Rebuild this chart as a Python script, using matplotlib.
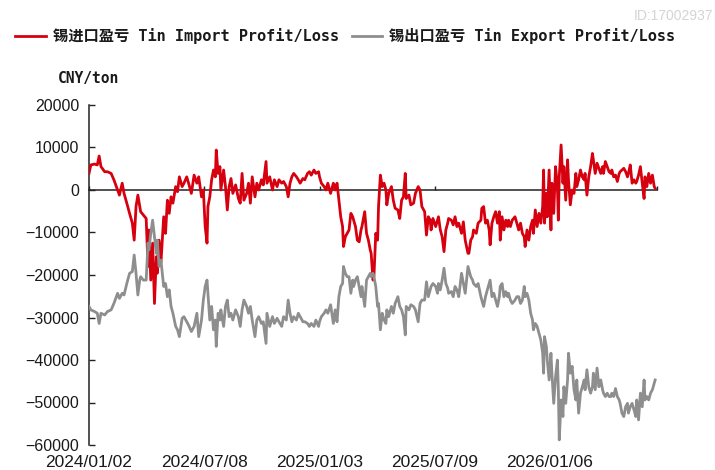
import numpy as np
import matplotlib
matplotlib.use('Agg')
import matplotlib.pyplot as plt
from matplotlib.font_manager import FontProperties
from matplotlib.lines import Line2D

plt.rcParams['font.family'] = ['Liberation Sans', 'Noto Sans CJK SC']
plt.rcParams['axes.unicode_minus'] = True

## trading-day index of each sample (day 0 = 2024/01/02)
day = [0, 2, 6, 9, 11, 13, 17, 20, 24, 27, 31, 33, 36, 38, 41, 44, 47, 49, 51, 53, 55, 56, 59, 62, 64,
       65, 67, 69, 71, 73, 74, 76, 78, 81, 83, 85, 87, 89, 91, 94, 96, 98, 101,
       103, 106, 108, 111, 114, 117, 119, 122, 124, 126, 128, 129, 131, 133, 135, 137, 138, 140, 142,
       143, 146, 148, 150, 152, 154, 156, 159, 162, 164, 166, 168, 171, 173, 175, 177, 180, 182, 184,
       187, 189, 192, 193, 196, 199, 201, 204,
       206, 209, 211, 214, 216, 218, 220, 222, 225, 227, 229, 232, 234, 237, 239, 241, 244, 246, 249,
       250, 252, 255, 257, 259, 262, 265, 267, 269, 271, 273, 275, 276, 278, 280, 282, 284, 286, 287,
       289, 291, 293, 295, 296, 299, 301, 303, 305, 306, 308,
       309, 311, 313, 314, 316, 318, 320, 322, 323, 325, 328, 330, 332, 335, 337, 339, 341, 343, 344,
       347, 349, 352, 354, 357, 359, 361, 364, 366, 368, 370, 371, 373, 376, 378, 379, 381, 383, 385,
       387, 389, 390, 393, 395, 397, 399, 401, 404, 406, 408, 411,
       412, 414, 416, 417, 420, 422, 425, 426, 428, 430, 432, 434, 435, 437, 439, 441, 443, 445, 446,
       448, 450, 452, 454, 455, 457, 459, 462, 464, 466, 468, 470, 472, 473, 475, 477, 479, 481, 482,
       484, 486, 488, 490, 492, 493, 494, 496, 497, 499, 501, 502, 504, 506, 508, 509, 510, 512, 514,
       515, 517, 519, 520, 522, 524, 526, 528, 529, 531, 533, 535, 537, 538, 540, 542, 544, 546, 547,
       549, 551, 553, 555, 557, 558, 560, 562, 564, 566, 567, 569, 571, 573, 575, 576, 578, 580, 582,
       584, 585, 587, 589, 591, 593, 594, 596, 598, 600, 602, 603, 605, 607, 609, 611, 613, 614]

## 锡进口盈亏 (CNY/ton)
import_pl = [3900, 5900, 6100, 5900, 8000, 5500, 4300, 4300, 3900, 2400, 0, -1200, 1600, -800, -3100,
             -5500, -7800, -11800, -3900, -1200, -3900, -5100, -5900, -6700, -18000, -9400, -21200,
             -12500, -26700, -15700, -19600, -11800, -17200, -6300, -10200, -2400, -5500, -1600, -3100,
             800, -400, 3100, 800,
             1600, 3100, 1600, -800, 3500, 1600, 3100, -1600, 0, -8600, -12500, -3900, -1600, 2400, 4700,
             3100, 9400, 3900, 5500, 0, 4700, 800, -4700, 800, 2700, -800, 1200, -2000, -3100, 3900,
             -2400, -800, 1600, -3100, 3100, -1600, 1600, 0, 2400, 1200, 6700, 1600, 3100, 0, 2400, 800,
             2400, 1600, 2000, 800, -1600, 1600, 3100, 3900, 3100, 2400, 1600, 2700, 2400, 3900, 4300,
             3500, 4700, 3900, 4300, 3100, 1600, 800, 0, 1600, -800, 1600, 0, 1600, -2400, -6300, -8600,
             -13300, -11000, -10200, -9400, -5500, -6300, -7100, -8600, -11800, -12200, -9400, -8600,
             -5100, -10200, -11800, -14100, -14900, -21200,
             -20400, -10200, -11800, -3900, 3500, 800, 1600, 0, -3500, -800, 800, -2400, -4300, -4700,
             -6700, -2400, -1600, 3900, -2000, -1200, -3500, -3100, -800, 800, 0, -3900, -5100, -10600,
             -6300, -7100, -9400, -6700, -8600, -7100, -6300, -9400, -11000, -14500, -9400, -7800, -6700,
             -7100, -8200, -6300, -8600, -7800, -10200, -7500, -11800, -14900,
             -14900, -11800, -11000, -9400, -10200, -7800, -7100, -4300, -3900, -7800, -7100, -9400,
             -12900, -7800, -6300, -5100, -7800, -5100, -11800, -6300, -9400, -7100, -8600, -7100, -8600,
             -7100, -6300, -7800, -9400, -7800, -10200, -11000, -13300, -9400, -11800, -8600, -7100,
             -10200, -4700, -8600, -5500, -7800, -3900, 4700, -7800, -800, -6300, 4700, -9400, 1600,
             -5500, 5500, 800, -7100, 3100, 10600, 1600,
             5500, -2400, 7100, 2400, -3500, 0, -800, 3900, 800, 2400, 4700, 3100, 2400, 3900, -1200,
             3100, 5500, 8600, 7100, 3900, 6300, 5100, 3900, 5500, 3900, 6700, 5500, 4300, 3900, 4700,
             3100, 3500, 2000, 3900, 4300, 4700, 5100, 4300, 3100, 3900, 5900, 1600, 2400, 1600, 2000,
             3500, 5500, 1600, -2000, 3100, 800, 3900, 1600, 3500, 800, 400]

## 锡出口盈亏 (CNY/ton)
export_pl = [-27400, -28200, -28600, -29000, -31400, -29000, -29400, -28600, -28200, -26700, -24300,
             -25500, -24300, -24700, -22000, -19600, -19200, -15300, -19600, -24700, -21200, -20400,
             -21200, -21200, -12500, -14100, -10200, -7100, -11000, -14900, -11800, -18000, -16500,
             -22700, -22000, -25100, -23500, -27400, -29000, -32100, -32900, -34500, -30200,
             -29800, -31000, -31800, -33300, -32100, -29000, -34500, -30600, -25900, -22700, -21200,
             -24300, -30600, -27400, -32900, -30600, -36800, -29000, -30600, -28200, -32100, -27400,
             -25900, -29800, -29000, -30600, -28200, -29800, -32100, -28200, -25900, -27400, -29000,
             -27400, -30600, -34500, -30600, -29800, -31400, -31000, -36100, -29000, -32100, -29800,
             -31400, -30200,
             -31000, -32100, -29800, -30600, -25900, -29000, -31000, -29800, -30600, -29000, -29800,
             -31000, -31000, -31400, -32100, -31400, -32100, -30600, -32100, -31000, -29800, -29000,
             -28200, -29000, -27000, -31400, -28200, -31000, -25100, -22700, -22000, -18000, -19600,
             -20400, -20400, -24300, -21200, -22700, -21200, -20400, -22700, -25100, -22700, -27400,
             -21200, -20400, -19600, -20400, -19600,
             -20400, -22700, -27400, -26700, -32900, -29000, -30600, -31400, -28200, -29800, -27400,
             -29000, -26700, -25100, -27400, -28200, -29800, -34100, -27400, -28200, -27000, -27400,
             -28200, -31000, -26700, -25900, -25900, -21600, -25100, -23500, -22700, -22000, -22700,
             -24300, -22000, -23500, -21200, -18400, -22000, -23100, -24300, -23900, -25100, -22700,
             -23500, -25100, -19600, -22000, -24300, -18000,
             -18800, -20400, -21200, -22000, -22700, -22000, -25100, -25900, -27400, -25100, -23500,
             -22000, -21200, -25100, -24300, -25900, -27400, -25100, -22700, -22000, -25100, -23900,
             -25100, -24300, -25900, -26700, -25900, -25100, -25100, -26700, -25900, -22700, -25100,
             -24300, -25900, -29000, -30600, -32900, -31400, -32100, -33700, -35300, -38400, -43100,
             -34500, -36800, -40000, -44700, -38400, -43100, -50200, -43900, -40000, -47000, -58800,
             -49400, -53300,
             -46300, -50200, -44700, -38400, -43100, -41500, -47000, -49400, -44700, -52500, -47800,
             -46300, -44700, -47000, -42300, -46300, -47800, -46300, -43100, -47000, -41900, -46300,
             -44700, -47000, -47800, -48600, -47800, -48600, -48600, -47800, -48600, -46700, -48600,
             -49400, -50200, -52500, -53300, -51000, -50200, -52500, -51000, -50200, -51700, -53300,
             -49400, -54100, -47800, -51000, -44700, -49400, -48600, -49400, -47800, -47000, -45500,
             -44700]

tick_days = [0, 125, 250, 375, 500]
tick_labels = ['2024/01/02', '2024/07/08', '2025/01/03', '2025/07/09', '2026/01/06']
y_ticks = [-60000, -50000, -40000, -30000, -20000, -10000, 0, 10000, 20000]

red = '#d6000f'
grey = '#8e8e8e'
txt = '#1a1a1a'

fig = plt.figure(figsize=(7.15, 4.70), dpi=100)
ax = fig.add_axes([89/715, 25/470, 568/715, 340/470])

ax.plot(day, import_pl, color=red, lw=2.0, zorder=3)
ax.plot(day, export_pl, color=grey, lw=2.0, zorder=3)

ax.set_xlim(0, 616)
ax.set_ylim(-60000, 20000)
ax.set_yticks(y_ticks)

for s in ['top', 'right']:
    ax.spines[s].set_visible(False)
ax.spines['bottom'].set_position(('data', 0))
ax.spines['bottom'].set_color('#222222')
ax.spines['left'].set_color('#222222')
ax.spines['bottom'].set_linewidth(1.1)
ax.spines['left'].set_linewidth(1.1)

ax.set_xticks(tick_days + [616])
ax.tick_params(axis='x', direction='in', length=3, width=1, labelbottom=False, color='#222222')
ax.tick_params(axis='y', direction='in', length=4, width=1, labelsize=11.5, pad=7,
               labelcolor=txt, color='#222222')

sec = ax.secondary_xaxis('bottom')
sec.set_xticks(tick_days, labels=tick_labels)
sec.tick_params(length=0, pad=7, labelsize=12.5, labelcolor=txt)
sec.spines['bottom'].set_visible(False)

mono_cjk = FontProperties(family=['DejaVu Sans Mono', 'Noto Sans CJK SC'], size=11, weight='bold')

handles = [Line2D([], [], color=red, lw=2.0), Line2D([], [], color=grey, lw=2.0)]
names = ['锡进口盈亏 Tin Import Profit/Loss', '锡出口盈亏 Tin Export Profit/Loss']
fig.legend(handles, names, loc='center left', bbox_to_anchor=(0.002, 1 - 36/470), ncol=2,
           frameon=False, prop=mono_cjk, handlelength=2.0, handletextpad=0.45,
           columnspacing=0.85, labelcolor=txt)

fig.text(58/715, 1 - 78/470, 'CNY/ton', fontproperties=FontProperties(
    family=['DejaVu Sans Mono', 'Noto Sans CJK SC'], size=10.5, weight='bold'),
    color=txt, va='center', ha='left')

fig.text(713/715, 1 - 16/470, 'ID:17002937', color='#d4d4d4', fontsize=10, ha='right', va='center')

fig.savefig('out.png', dpi=100)
